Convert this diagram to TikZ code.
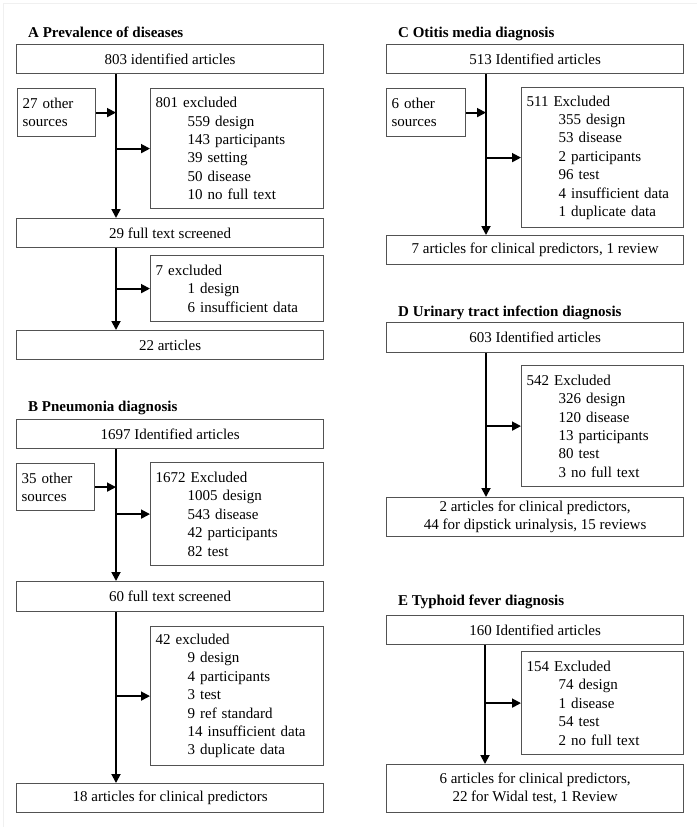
\documentclass[tikz,border=0pt]{standalone}
\usepackage{fontspec}
\setmainfont{Liberation Serif}
\usetikzlibrary{arrows.meta}
\newcommand{\exind}{\hspace*{32pt}}
\begin{document}
\begin{tikzpicture}[x=1pt,y=-1pt,
  every node/.style={font=\fontsize{15pt}{18.4pt}\selectfont},
  box/.style={draw=black!68, line width=1.2pt, inner sep=0pt, anchor=north west},
  listbox/.style={box, align=left, inner xsep=5pt},
  ttl/.style={anchor=base west, inner sep=0pt, font=\fontsize{15pt}{18pt}\selectfont\bfseries},
  arr/.style={line width=1.8pt, -{Triangle[length=9pt,width=9pt]}}]
\useasboundingbox (0,0) rectangle (700,830);
\draw[gray!12, line width=0.8pt] (3,827) -- (3,3) -- (697,3);

% ---------- A ----------
\node[ttl] (ta) at (28,37) {A Prevalence of diseases};
\node[box, minimum width=307pt, minimum height=29pt] (a1) at (16,44) {803 identified articles};
\node[listbox, text width=68pt, minimum height=48pt] (ao) at (17,88) {27 other\\sources};
\node[listbox, text width=163pt, minimum height=120pt] (ae) at (150,88)
  {801 excluded\\\exind 559 design\\\exind 143 participants\\\exind 39 setting\\\exind 50 disease\\\exind 10 no full text};
\node[box, minimum width=307pt, minimum height=29pt] (a2) at (16,218) {29 full text screened};
\node[listbox, text width=163pt, minimum height=66pt] (ae2) at (150,255)
  {7 excluded\\\exind 1 design\\\exind 6 insufficient data};
\node[box, minimum width=307pt, minimum height=29pt] (a3) at (16,330) {22 articles};
\coordinate (ax) at (116,0);
\draw[arr] (a1.south -| ax) -- (a2.north -| ax);
\draw[arr] (ao.east) -- (ao.east -| ax);
\draw[arr] (ae.west -| ax) -- (ae.west);
\draw[arr] (a2.south -| ax) -- (a3.north -| ax);
\draw[arr] (ae2.west -| ax) -- (ae2.west);

% ---------- B ----------
\node[ttl] (tb) at (28,411) {B Pneumonia diagnosis};
\node[box, minimum width=307pt, minimum height=29pt] (b1) at (16,419) {1697 Identified articles};
\node[listbox, text width=68pt, minimum height=47pt] (bo) at (16,463) {35 other\\sources};
\node[listbox, text width=163pt, minimum height=103pt] (be) at (150,462)
  {1672 Excluded\\\exind 1005 design\\\exind 543 disease\\\exind 42 participants\\\exind 82 test};
\node[box, minimum width=307pt, minimum height=30pt] (b2) at (16,581) {60 full text screened};
\node[listbox, text width=163pt, minimum height=139pt] (be2) at (150,626)
  {42 excluded\\\exind 9 design\\\exind 4 participants\\\exind 3 test\\\exind 9 ref standard\\\exind 14 insufficient data\\\exind 3 duplicate data};
\node[box, minimum width=307pt, minimum height=29pt] (b3) at (16,783) {18 articles for clinical predictors};
\coordinate (bx) at (116,0);
\draw[arr] (b1.south -| bx) -- (b2.north -| bx);
\draw[arr] (bo.east) -- (bo.east -| bx);
\draw[arr] (be.west -| bx) -- (be.west);
\draw[arr] (b2.south -| bx) -- (b3.north -| bx);
\draw[arr] (be2.west -| bx) -- (be2.west);

% ---------- C ----------
\node[ttl] (tc) at (398,37) {C Otitis media diagnosis};
\node[box, minimum width=297pt, minimum height=29pt] (c1) at (386,44) {513 Identified articles};
\node[listbox, text width=69pt, minimum height=48pt] (co) at (386,88) {6 other\\sources};
\node[listbox, text width=152pt, minimum height=140pt] (ce) at (521,87)
  {511 Excluded\\\exind 355 design\\\exind 53 disease\\\exind 2 participants\\\exind 96 test\\\exind 4 insufficient data\\\exind 1 duplicate data};
\node[box, minimum width=297pt, minimum height=29pt] (c2) at (386,235) {7 articles for clinical predictors, 1 review};
\coordinate (cx) at (486,0);
\draw[arr] (c1.south -| cx) -- (c2.north -| cx);
\draw[arr] (co.east) -- (co.east -| cx);
\draw[arr] (ce.west -| cx) -- (ce.west);

% ---------- D ----------
\node[ttl] (td) at (398,316) {D Urinary tract infection diagnosis};
\node[box, minimum width=297pt, minimum height=30pt] (d1) at (386,322) {603 Identified articles};
\node[listbox, text width=152pt, minimum height=121pt] (de) at (521,365)
  {542 Excluded\\\exind 326 design\\\exind 120 disease\\\exind 13 participants\\\exind 80 test\\\exind 3 no full text};
\node[box, align=center, minimum width=297pt, minimum height=39pt] (d2) at (386,497)
  {2 articles for clinical predictors,\\44 for dipstick urinalysis, 15 reviews};
\coordinate (dx) at (486,0);
\draw[arr] (d1.south -| dx) -- (d2.north -| dx);
\draw[arr] (de.west -| dx) -- (de.west);

% ---------- E ----------
\node[ttl] (te) at (398,605) {E Typhoid fever diagnosis};
\node[box, minimum width=297pt, minimum height=29pt] (e1) at (386,615) {160 Identified articles};
\node[listbox, text width=152pt, minimum height=103pt] (ee) at (521,651)
  {154 Excluded\\\exind 74 design\\\exind 1 disease\\\exind 54 test\\\exind 2 no full text};
\node[box, align=center, minimum width=297pt, minimum height=48pt] (e2) at (386,764)
  {6 articles for clinical predictors,\\22 for Widal test, 1 Review};
\coordinate (ex) at (485,0);
\draw[arr] (e1.south -| ex) -- (e2.north -| ex);
\draw[arr] (ee.west -| ex) -- (ee.west);
\end{tikzpicture}
\end{document}
